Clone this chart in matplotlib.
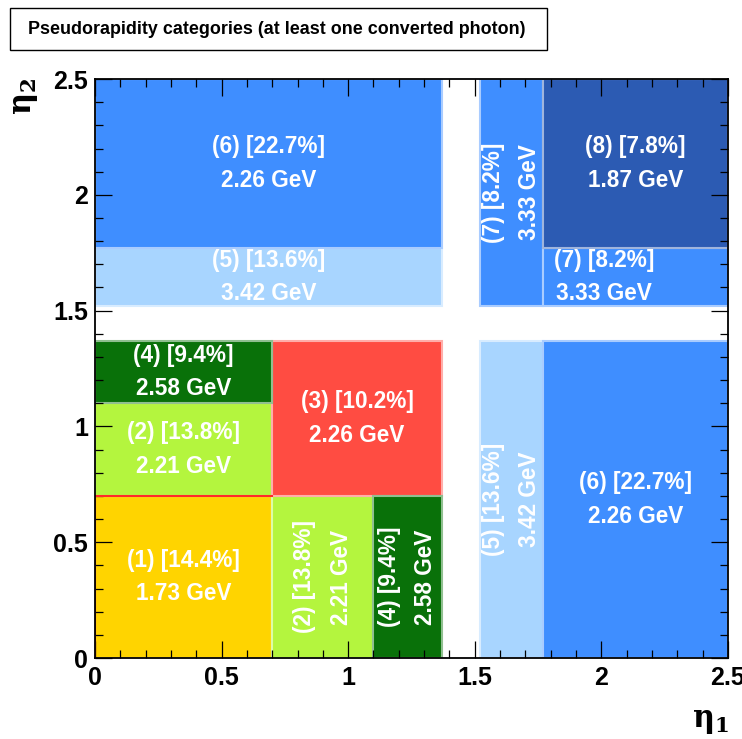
import matplotlib
matplotlib.use("Agg")
import matplotlib.pyplot as plt
from matplotlib.patches import Rectangle
from matplotlib.ticker import MultipleLocator
from matplotlib.colors import to_rgb

plt.rcParams['font.family'] = ['Liberation Sans', 'DejaVu Sans']
plt.rcParams['font.weight'] = 'bold'

# categorias: numero, fraccion y resolucion
categorias = [1, 2, 3, 4, 5, 6, 7, 8]
fracciones = [14.4, 13.8, 10.2, 9.4, 13.6, 22.7, 8.2, 7.8]
resoluciones = [1.73, 2.21, 2.26, 2.58, 3.42, 2.26, 3.33, 1.87]
colores = ['#FFD400', '#B4F53E', '#FF4C42', '#097109',
           '#A8D5FF', '#3F8EFF', '#3F8EFF', '#2C5BB3']

# cajas: categoria, eta1 min, eta1 max, eta2 min, eta2 max, texto vertical
caja_cat = [1, 2, 2, 3, 4, 4, 5, 5, 6, 6, 7, 7, 8]
caja_x0 = [0, 0, 0.7, 0.7, 0, 1.1, 0, 1.52, 0, 1.77, 1.52, 1.77, 1.77]
caja_x1 = [0.7, 0.7, 1.1, 1.37, 0.7, 1.37, 1.37, 1.77, 1.37, 2.5, 1.77, 2.5, 2.5]
caja_y0 = [0, 0.7, 0, 0.7, 1.1, 0, 1.52, 0, 1.77, 0, 1.52, 1.52, 1.77]
caja_y1 = [0.7, 1.1, 0.7, 1.37, 1.37, 0.7, 1.77, 1.37, 2.5, 1.37, 2.5, 1.77, 2.5]
caja_vert = [False, False, True, False, False, True, False, True,
             False, False, True, False, False]

ticks_mayores = [0, 0.5, 1, 1.5, 2, 2.5]
etiquetas_ticks = ['0', '0.5', '1', '1.5', '2', '2.5']


def aclarar(c, f=0.5):
    r, g, b = to_rgb(c)
    return (r + (1 - r) * f, g + (1 - g) * f, b + (1 - b) * f)


fig = plt.figure(figsize=(7.42, 7.39), dpi=100)
ax = fig.add_axes([0.128, 0.1096, 0.853, 0.7834])

for i in range(len(caja_cat)):
    k = caja_cat[i] - 1
    x0, x1, y0, y1 = caja_x0[i], caja_x1[i], caja_y0[i], caja_y1[i]
    ax.add_patch(Rectangle((x0, y0), x1 - x0, y1 - y0, facecolor=colores[k],
                           edgecolor=aclarar(colores[k], 0.55), linewidth=1.5,
                           zorder=1))
    texto = f"({categorias[k]}) [{fracciones[k]}%]\n{resoluciones[k]} GeV"
    tx = (x0 + x1) / 2
    ty = (y0 + y1) / 2
    if caja_cat[i] == 7 and not caja_vert[i]:
        tx = x0 + 0.33 * (x1 - x0)
    ax.text(tx, ty, texto, color='white', fontsize=16.3, fontweight='bold',
            ha='center', va='center', multialignment='center',
            rotation=90 if caja_vert[i] else 0,
            linespacing=1.75 if caja_vert[i] else 1.6, zorder=3)

# borde rojo de la caja (1)
ax.plot([caja_x0[0], caja_x0[0], caja_x1[0]],
        [caja_y0[0], caja_y1[0], caja_y1[0]], color='#FF2A2A', lw=1.5, zorder=2)

ax.set_xlim(0, 2.5)
ax.set_ylim(0, 2.5)
ax.set_xticks(ticks_mayores)
ax.set_xticklabels(etiquetas_ticks)
ax.set_yticks(ticks_mayores)
ax.set_yticklabels(etiquetas_ticks)
ax.xaxis.set_minor_locator(MultipleLocator(0.1))
ax.yaxis.set_minor_locator(MultipleLocator(0.1))
ax.tick_params(which='both', direction='in', top=True, right=True, width=0.9,
               color='black')
ax.tick_params(which='major', length=12.5)
ax.tick_params(which='minor', length=6)
ax.tick_params(axis='x', which='major', labelsize=18, pad=6)
ax.tick_params(axis='y', which='major', labelsize=18, pad=5)
for lab in ax.get_xticklabels() + ax.get_yticklabels():
    lab.set_fontweight('bold')
for s in ax.spines.values():
    s.set_linewidth(1.3)

fig.text(0.983, 0.024, r'$\mathrm{\eta}_{\mathbf{1}}$', fontsize=22,
         ha='right', va='center', math_fontfamily='dejavuserif')
fig.text(0.034, 0.895, r'$\mathrm{\eta}_{\mathbf{2}}$', fontsize=22,
         rotation=90, ha='center', va='top', math_fontfamily='dejavuserif')

# caja del titulo
fig.patches.append(Rectangle((0.0135, 0.9323), 0.7237, 0.0568,
                             transform=fig.transFigure, facecolor='white',
                             edgecolor='black', linewidth=1.0))
fig.text(0.038, 0.9607, "Pseudorapidity categories (at least one converted photon)",
         fontsize=12.9, fontweight='bold', ha='left', va='center')

fig.savefig("out.png", dpi=100)
